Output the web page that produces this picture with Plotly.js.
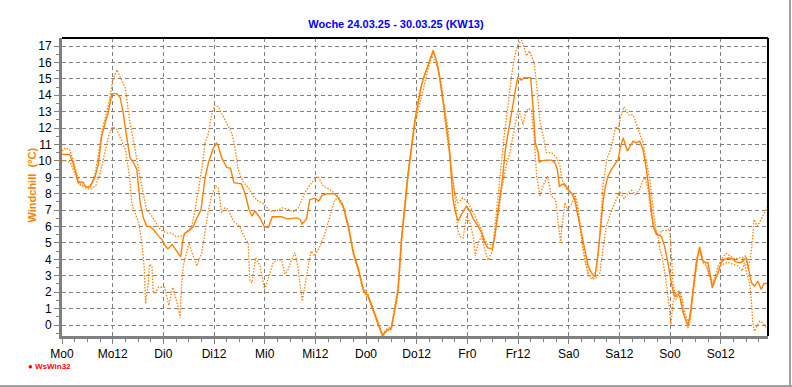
<!DOCTYPE html>
<html>
<head>
<meta charset="utf-8">
<script src="https://cdn.plot.ly/plotly-3.0.1.min.js"></script>
<style>
  html, body { margin: 0; padding: 0; background: #fff; }
  #wrap { position: relative; width: 792px; height: 387px; overflow: hidden; }
  #chart { position: absolute; left: 0; top: 0; width: 792px; height: 387px; }
  .edgeR { position: absolute; left: 789px; top: 0; width: 2px; height: 387px; background: #a0a0a0; }
  .edgeB { position: absolute; left: 0; top: 385px; width: 792px; height: 2px; background: #a0a0a0; }
</style>
</head>
<body>
<div id="wrap">
  <div id="chart"></div>
  <div class="edgeR"></div>
  <div class="edgeB"></div>
</div>
<script>
// Hours since Monday 00:00 and windchill values (°C)
const avgHours = [0,1.8,2.6,3.4,3.8,5.0,5.4,5.8,6.6,7.0,7.8,8.6,9.4,10.2,11.0,11.8,13.0,13.8,14.5,15.3,16.1,16.9,17.7,18.1,18.5,19.3,20.1,20.9,21.7,22.9,23.7,24.5,25.1,26.1,26.9,27.7,28.1,28.7,29.1,30.3,31.1,31.9,32.9,33.9,34.7,35.7,36.6,37.0,37.8,39.0,39.9,40.7,42.5,43.3,44.3,45.0,45.7,46.9,47.9,48.9,49.8,52.0,53.2,55.6,56.4,56.9,57.9,58.7,59.9,60.8,61.6,62.7,64.6,65.4,66.6,67.8,69.0,70.2,71.3,72.5,73.7,74.9,75.9,76.9,78.0,78.8,79.6,80.4,81.2,81.9,82.8,83.6,84.4,85.1,85.9,86.7,87.9,88.7,89.5,90.3,91.1,91.85,92.2,92.6,93.2,93.8,94.6,95.8,96.6,97.4,98.55,99.35,100.1,100.9,101.9,102.5,103.3,104.3,105.0,106.05,107.2,107.9,108.8,109.4,111.0,111.6,112.1,112.8,113.0,113.5,114.7,115.9,116.7,117.3,117.8,118.4,119.1,119.9,120.6,121.4,122.2,123.0,123.8,124.6,125.4,126.2,127.0,127.6,128.1,128.7,129.3,130.1,130.9,131.7,132.3,132.9,133.9,134.7,135.25,136.0,136.8,137.6,138.4,139.2,140.0,140.8,141.6,141.95,142.7,143.5,144.3,145.0,145.7,146.3,147.1,147.9,148.3,148.9,149.4,150.2,151.0,151.8,152.4,153.0,153.6,154.0,154.7,155.4,156.1,156.9,157.9,158.7,159.7,160.7,161.5,162.1,162.6,163.3,164.0,164.8,165.6,166.2,167.2];
const avgWindchill = [10.4,10.4,9.9,9.1,8.7,8.7,8.5,8.4,8.4,8.6,9.0,9.8,11.5,12.3,13.0,14.1,14.1,13.85,12.9,11.5,10.2,9.9,9.5,8.5,7.45,6.5,6.0,6.0,5.8,5.4,5.2,4.8,4.65,4.9,4.6,4.3,4.15,5.3,5.6,5.8,6.0,6.5,7.0,9.0,9.9,10.7,11.1,10.9,10.2,9.6,9.55,8.67,8.6,8.06,7.04,6.63,6.94,6.53,6.0,5.95,6.6,6.6,6.47,6.53,6.43,6.16,6.47,7.65,7.73,7.55,7.9,8.0,8.0,7.75,7.24,6.02,4.4,3.38,2.16,1.76,0.94,0.13,-0.64,-0.32,-0.18,0.94,2.16,5.2,7.45,9.07,10.9,12.5,13.6,14.56,15.27,15.88,16.7,16.1,14.97,13.55,12.1,10.5,9.07,7.65,6.84,6.33,6.74,7.24,6.94,6.47,6.02,5.62,5.0,4.7,4.64,5.41,7.04,8.87,10.7,12.43,14.05,15.07,14.93,15.07,15.07,13.14,11.1,10.5,9.9,10.0,10.05,10.05,9.9,9.5,8.46,8.56,8.56,8.26,8.06,7.65,6.63,5.41,4.4,3.6,3.18,2.93,4.4,6.0,7.45,8.46,9.07,9.48,9.8,10.1,10.9,11.4,10.6,11.0,11.2,11.1,11.2,10.7,9.48,7.85,6.02,5.5,5.45,5.41,4.8,3.8,2.57,1.76,1.86,1.76,0.74,0.1,-0.07,0.94,2.16,3.8,4.76,3.9,3.8,3.8,2.97,2.26,2.77,3.18,3.8,4.0,4.1,4.03,3.83,3.8,3.95,4.1,3.4,2.57,2.37,2.67,2.16,2.53,2.53];

const maxHours = [0,0.8,1.8,2.6,3.4,4.2,5.0,6.0,7.0,7.8,8.6,9.4,10.2,11.0,12.0,13.0,14.0,15.0,16.0,17.0,18.0,19.0,20.0,21.0,22.0,23.0,24.0,25.0,26.0,27.0,27.55,28.7,29.9,30.7,31.5,32.3,33.1,33.9,34.7,35.4,36.2,37.0,38.2,39.4,40.2,40.9,41.7,42.9,44.1,45.3,46.5,48.0,49.2,50.8,52.2,53.6,54.8,55.95,57.5,59.1,60.6,61.9,63.45,65.4,66.6,67.8,69.0,70.2,71.3,72.5,73.7,74.9,75.9,76.9,78.0,78.8,79.6,80.4,81.2,81.9,82.8,83.6,84.35,85.5,86.7,87.9,89.1,89.9,90.7,91.5,91.85,92.6,93.0,93.8,94.9,96.2,97.4,98.55,99.35,100.1,100.9,102.1,102.9,103.7,104.7,105.7,106.45,107.2,108.0,108.9,110.0,110.7,111.8,112.6,113.2,114.3,114.7,115.9,117.1,117.9,118.4,119.5,120.6,121.6,122.0,122.6,123.4,124.2,124.7,125.8,126.6,127.4,128.1,129.0,129.8,130.5,131.1,131.7,132.3,133.1,133.7,134.2,135.25,136.0,136.8,137.6,138.4,139.2,140.0,140.8,141.6,141.95,143.1,143.9,144.3,144.7,145.5,146.1,146.7,147.5,148.3,148.9,149.7,150.5,151.0,151.6,152.6,153.4,154.2,155.4,156.5,157.3,158.1,159.3,160.5,161.3,161.8,162.5,163.3,163.9,164.7,165.6,166.4,167.2];
const maxWindchill = [10.6,10.8,10.7,10.1,9.3,8.6,8.5,8.4,8.6,9.2,10.3,11.8,12.6,13.4,14.9,15.55,15.0,14.45,12.5,11.1,9.6,8.3,7.05,6.75,6.35,5.9,5.7,5.6,5.6,5.4,5.4,5.45,5.8,6.0,7.0,8.3,9.5,11.1,11.7,12.8,13.4,13.3,12.7,12.1,11.7,10.9,9.5,8.7,8.4,7.85,7.55,7.35,6.94,6.94,7.14,7.04,6.9,7.14,8.06,8.67,9.07,8.46,8.26,7.85,7.3,6.1,4.5,3.5,2.3,1.85,1.05,0.2,-0.55,-0.25,-0.1,1.1,2.4,5.4,7.6,9.2,11.0,12.6,13.85,14.97,15.78,16.75,15.7,14.15,13.14,11.7,10.1,8.67,8.06,7.45,7.75,7.45,6.84,6.23,5.82,5.2,4.9,4.9,7.04,9.07,11.5,13.55,15.17,16.4,17.1,17.35,16.4,16.7,16.0,14.15,12.4,11.1,10.5,10.5,10.2,9.7,8.87,8.26,8.06,7.85,7.45,6.23,4.6,3.6,3.14,2.87,3.4,5.6,8.46,10.1,10.6,11.3,12.1,11.9,12.7,13.3,13.0,12.8,12.8,12.2,11.7,11.1,9.9,8.87,7.04,5.6,5.5,5.76,5.76,5.86,4.4,2.57,1.55,2.06,1.76,0.74,0.13,0.74,2.57,4.2,4.6,4.0,3.75,2.97,2.57,3.6,4.1,4.36,4.23,4.03,4.1,4.1,4.2,3.38,4.6,6.43,6.02,6.43,6.84,7.24];

const minHours = [0,1.0,2.0,3.0,4.0,5.0,6.0,7.0,8.0,9.0,10.0,11.0,12.0,13.0,14.0,15.0,16.0,16.5,17.0,17.8,18.3,19.0,19.5,19.8,20.4,20.7,21.3,21.6,22.0,22.9,24.3,25.3,26.2,27.2,28.0,28.2,28.7,29.5,30.1,30.7,31.9,33.1,33.9,34.7,35.4,36.4,37.0,37.8,38.6,39.4,40.6,42.1,43.3,44.1,44.5,45.0,45.85,46.9,48.0,48.8,50.0,51.2,52.0,52.8,53.6,54.4,55.2,55.8,56.3,56.9,57.9,58.95,59.9,61.1,62.3,63.45,64.6,65.4,66.6,67.8,69.0,70.2,71.3,72.5,73.7,74.9,75.9,76.9,78.0,78.8,79.6,80.4,81.2,81.9,82.8,83.6,84.35,85.9,87.5,88.3,89.1,89.9,90.7,91.5,92.25,93.0,93.7,94.2,95.0,95.8,96.6,97.4,97.9,98.55,99.35,100.1,100.9,101.9,102.5,103.3,104.1,105.0,106.05,106.85,107.6,108.0,108.7,109.2,109.75,110.4,111.2,111.8,112.4,113.2,113.9,114.96,115.9,116.9,117.5,118.1,118.4,119.1,119.7,120.6,121.4,122.2,123.0,123.8,124.6,125.4,126.3,127.4,128.1,128.9,130.1,131.3,132.1,133.1,134.1,134.9,135.8,136.8,137.6,138.1,138.8,139.6,140.5,141.1,141.6,142.1,142.9,143.7,144.2,144.7,145.3,146.1,146.7,147.5,148.2,148.7,149.2,149.8,150.6,151.0,151.8,152.6,153.4,154.0,155.0,155.8,156.5,157.7,158.9,160.1,161.1,161.6,162.3,162.85,163.3,163.6,164.0,164.7,165.2,166.0,166.5,167.2];
const minWindchill = [10.0,10.0,9.9,9.3,8.6,8.4,8.3,8.3,8.5,9.2,10.3,11.5,12.1,11.9,11.3,10.7,9.0,7.5,7.0,6.5,6.0,4.8,3.4,1.3,2.5,3.7,3.6,2.0,1.96,2.3,2.3,1.2,2.3,1.4,0.43,1.96,3.6,4.4,5.0,4.5,3.6,4.4,5.8,7.04,7.85,8.46,8.36,6.84,7.14,7.04,6.33,6.0,5.3,5.0,2.67,2.57,4.1,3.6,2.16,2.77,3.8,4.0,3.95,3.1,3.4,4.0,4.4,3.6,2.57,1.45,2.97,4.5,4.2,4.8,5.6,6.63,7.65,7.7,7.15,5.9,4.3,3.25,2.05,1.65,0.85,0.05,-0.7,-0.4,-0.25,0.8,2.0,4.9,7.2,8.9,10.7,12.3,13.1,14.8,16.4,16.1,15.6,14.6,12.5,10.9,9.5,8.06,5.82,5.41,5.3,6.63,6.23,5.41,4.2,5.0,5.41,4.6,3.95,4.5,5.41,6.63,8.26,9.48,10.5,11.5,12.5,13.1,12.7,12.2,12.9,13.2,13.1,11.5,9.07,7.85,8.46,9.07,7.85,7.65,6.23,5.0,6.02,7.45,7.04,7.35,7.85,7.04,5.41,4.0,3.08,2.81,2.81,3.18,4.6,6.0,6.94,7.65,8.16,7.7,8.06,8.2,7.95,8.26,8.87,8.97,8.26,6.63,5.82,5.45,4.6,4.2,2.97,1.35,0.03,1.35,1.96,2.06,1.35,0.43,-0.18,0.13,1.35,2.57,4.2,4.6,3.8,3.6,2.97,2.37,2.97,3.6,3.7,3.83,3.7,3.6,3.3,3.8,2.97,2.57,1.35,0.13,-0.38,0.03,0.23,0.13,-0.07,-0.32];

const tickHours = [0,12,24,36,48,60,72,84,96,108,120,132,144,156];
const tickLabels = ['Mo0','Mo12','Di0','Di12','Mi0','Mi12','Do0','Do12','Fr0','Fr12','Sa0','Sa12','So0','So12'];

const orange = 'rgb(255,128,0)';
const gridGray = '#808080';
const font = 'Liberation Sans, Arial, sans-serif';

const traces = [
  { x: maxHours, y: maxWindchill, mode: 'lines', line: { color: orange, width: 1.3, dash: '1.5px,1.5px' }, hoverinfo: 'skip' },
  { x: minHours, y: minWindchill, mode: 'lines', line: { color: orange, width: 1.3, dash: '1.5px,1.5px' }, hoverinfo: 'skip' },
  { x: avgHours, y: avgWindchill, mode: 'lines', line: { color: orange, width: 1.4 }, hoverinfo: 'skip' }
];

const axisCommon = {
  ticks: 'outside', ticklen: 5, tickcolor: gridGray, tickwidth: 1,
  showline: true, linecolor: gridGray, linewidth: 3,
  showgrid: true, gridcolor: gridGray, gridwidth: 1, griddash: '4px,3px',
  zeroline: false, fixedrange: true,
  tickfont: { family: font, size: 12, color: '#000' }
};

const layout = {
  width: 792, height: 387,
  margin: { l: 62, r: 24, t: 38, b: 51 },
  paper_bgcolor: '#fff', plot_bgcolor: '#fff',
  showlegend: false,
  title: {
    text: 'Woche 24.03.25 - 30.03.25 (KW13)',
    font: { family: font, size: 11, color: '#0000FF', weight: 'bold' },
    x: 0.5, xref: 'container', xanchor: 'center',
    y: 1 - 24 / 387, yref: 'container', yanchor: 'middle'
  },
  xaxis: Object.assign({}, axisCommon, {
    range: [0, 167.2],
    tickmode: 'array', tickvals: tickHours, ticktext: tickLabels,
    minor: { tickmode: 'linear', tick0: 0, dtick: 3, ticks: 'outside', ticklen: 3, tickcolor: gridGray, showgrid: false }
  }),
  yaxis: Object.assign({}, axisCommon, {
    range: [-0.67, 17.49],
    tickmode: 'linear', tick0: 0, dtick: 1,
    minor: { tickmode: 'linear', tick0: 0.5, dtick: 1, ticks: 'outside', ticklen: 3, tickcolor: gridGray, showgrid: false }
  }),
  shapes: [
    { type: 'line', xref: 'paper', yref: 'paper', x0: 0, x1: 1, y0: 1, y1: 1, line: { color: '#000', width: 2 } },
    { type: 'line', xref: 'paper', yref: 'paper', x0: 1, x1: 1, y0: 0, y1: 1, line: { color: '#000', width: 2 } }
  ],
  annotations: [
    { xref: 'paper', yref: 'paper', x: (32 - 62) / 706, y: 0.505, xanchor: 'center', yanchor: 'middle', textangle: -90,
      showarrow: false, text: 'Windchill\u00a0 (°C)', font: { family: font, size: 11, color: orange, weight: 'bold' } },
    { xref: 'paper', yref: 'paper', x: (26 - 62) / 706, y: (336 - 366) / 298, xanchor: 'left', yanchor: 'middle',
      showarrow: false, text: '<b>● WsWin32</b>', font: { family: font, size: 8, color: '#FF0000' } }
  ]
};

Plotly.newPlot('chart', traces, layout, { displayModeBar: false, staticPlot: true });
</script>
</body>
</html>
